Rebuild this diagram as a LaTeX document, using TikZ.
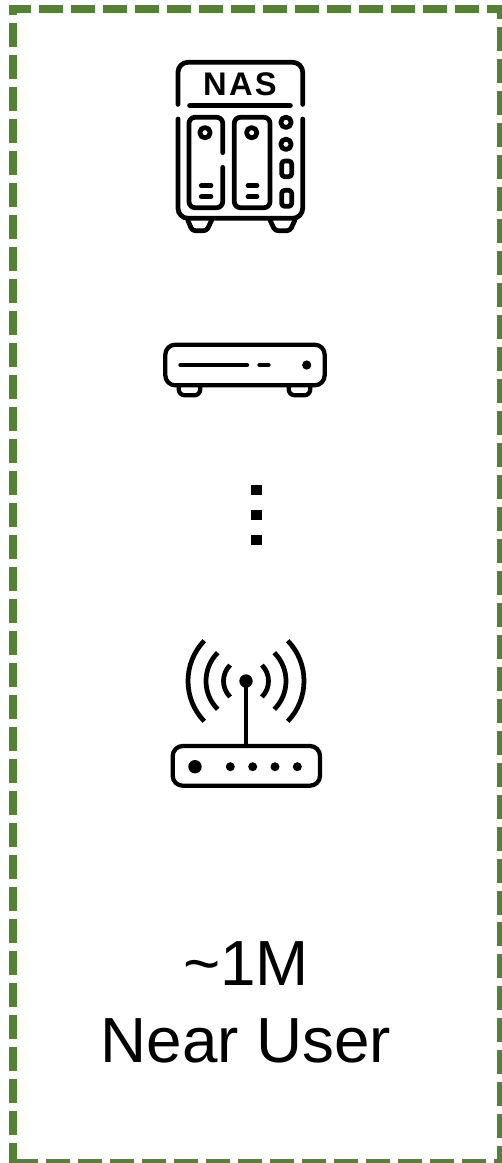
\documentclass[tikz,border=0pt]{standalone}
\usepackage{fontspec}
\setmainfont{Liberation Sans}
\definecolor{nearborder}{RGB}{84, 130, 53}
\begin{document}
\begin{tikzpicture}[
    x=0.02cm,
    y=0.02cm,
    % Icon styles
    iconline/.style={
        draw=black,
        line width=0.095cm,
        line cap=round,
        line join=round
    },
    thinline/.style={
        iconline,
        line width=0.085cm
    },
    icondot/.style={
        fill=black
    },
    boundary/.style={
        draw=nearborder,
        line width=0.16cm,
        dash pattern=on 0.48cm off 0.16cm,
        dash phase=0.08cm
    },
    biglabel/.style={
        anchor=base,
        font=\fontsize{36.3pt}{40pt}\selectfont,
        inner sep=0pt
    },
    naslabel/.style={
        font=\fontsize{18.6pt}{22pt}\selectfont\bfseries\addfontfeatures{LetterSpace=7},
        inner sep=0pt
    }
]
    \useasboundingbox (0,0) rectangle (501,-1163);

    % =========================================================================
    % 1. DASHED BOUNDARY
    % =========================================================================
    \draw[boundary] (13,-1163) -- (13,-9) -- (501,-9) -- (501,-1163) -- cycle;

    % =========================================================================
    % 2. NAS
    % =========================================================================
    \draw[iconline, rounded corners=0.2cm] (178,-104.4) -- (178,-62.3) -- (302.7,-62.3) -- (302.7,-104.4);
    \draw[iconline, rounded corners=0.2cm] (178,-119) -- (178,-218.3) -- (302.7,-218.3) -- (302.7,-119);
    \draw[iconline] (189.6,-105.7) -- (290.4,-105.7);
    \node[naslabel] (naslabel) at (240,-84.5) {NAS};

    % Left bay, open on its right side
    \draw[iconline, rounded corners=0.12cm] (222.7,-152.7) -- (222.7,-117.3) -- (189,-117.3) -- (189,-207.7) -- (222.7,-207.7) -- (222.7,-167.3);
    % Right bay
    \draw[iconline, rounded corners=0.12cm] (234.3,-117.3) rectangle (270,-207.7);

    \draw[iconline] (205,-132.7) circle (5.2);
    \draw[iconline] (251.7,-132.7) circle (5.2);
    \foreach \slot in {185.7,196.7} {
        \draw[iconline] (201.3,-\slot) -- (211,-\slot);
        \draw[iconline] (248,-\slot) -- (257,-\slot);
    }

    % Right column
    \draw[iconline] (286,-122.3) circle (5.2);
    \draw[iconline] (286,-144.3) circle (5.2);
    \draw[iconline, rounded corners=0.06cm] (281.7,-161) rectangle (291.7,-176.7);
    \draw[iconline, rounded corners=0.06cm] (281.7,-190.3) rectangle (291.7,-206.3);

    % Feet
    \draw[iconline, rounded corners=0.06cm] (187.7,-220) -- (192.3,-230.7) -- (206.7,-230.7) -- (211.7,-220);
    \draw[iconline, rounded corners=0.06cm] (270,-220) -- (275,-230.7) -- (290,-230.7) -- (295,-220);

    % =========================================================================
    % 3. FLAT BOX
    % =========================================================================
    \draw[thinline, rounded corners=0.2cm] (165.3,-344.7) rectangle (324.7,-385.3);
    \draw[thinline] (180.5,-365) -- (247,-365);
    \draw[thinline] (259.5,-365) -- (268.5,-365);
    \fill[icondot] (306.7,-365) circle (4.6);
    \draw[thinline, rounded corners=0.12cm] (178.7,-386) -- (178.7,-395.3) -- (200.3,-395.3) -- (200.3,-386);
    \draw[thinline, rounded corners=0.12cm] (288.7,-386) -- (288.7,-395.3) -- (310.3,-395.3) -- (310.3,-386);

    % =========================================================================
    % 4. VERTICAL DOTS
    % =========================================================================
    \foreach \doty in {490,515,540} {
        \fill[icondot] (251.3,-\doty-5) rectangle (261.5,-\doty+5);
    }

    % =========================================================================
    % 5. ROUTER
    % =========================================================================
    \fill[icondot] (246,-681) circle (6.7);
    \draw[thinline] (246,-681) -- (246,-746);
    \draw[thinline, rounded corners=0.2cm] (172.7,-746) rectangle (320,-785.7);
    \fill[icondot] (195,-766.7) circle (6.7);
    \foreach \ledx in {230.3,252.7,275,297.3} {
        \fill[icondot] (\ledx,-766.7) circle (4.5);
    }

    % Waves
    \foreach \wave/\half in {22.5/45,40/45,58/44} {
        \draw[iconline, line cap=butt] (246,-681) ++(180-\half:\wave) arc[start angle=180-\half, end angle=180+\half, radius=\wave];
        \draw[iconline, line cap=butt] (246,-681) ++(\half:\wave) arc[start angle=\half, end angle=-\half, radius=\wave];
    }

    % =========================================================================
    % 6. LABELS
    % =========================================================================
    \node[biglabel] (distlabel) at (246,-985) {\textasciitilde 1M};
    \node[biglabel] (userlabel) at (246,-1062) {Near User};

\end{tikzpicture}
\end{document}
